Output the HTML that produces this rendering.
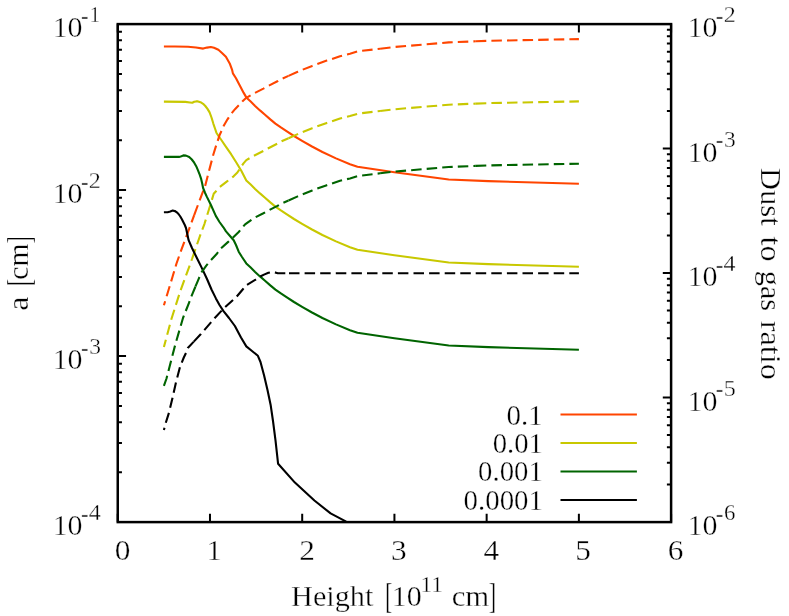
<!DOCTYPE html>
<html><head><meta charset="utf-8"><title>plot</title>
<style>
html,body{margin:0;padding:0;background:#fff;}
body{width:789px;height:616px;overflow:hidden;font-family:"Liberation Serif",serif;}
svg{display:block;will-change:transform}
svg text{font-family:"Liberation Serif",serif;fill:#000;stroke:#fff;stroke-width:0.35px;paint-order:fill stroke;}
.c{fill:none;stroke-width:2.1;stroke-linejoin:round;stroke-linecap:butt}
.d{stroke-dasharray:10.6 5}
</style></head><body>
<svg width="789" height="616" viewBox="0 0 789 616">
<rect width="789" height="616" fill="#fff"/>
<g class="curves">
<polyline class="c" stroke="#ff4500" points="163.9,46.5 175.0,46.5 188.0,46.8 196.0,47.5 203.2,48.6 207.0,47.6 210.8,47.0 214.0,47.8 218.4,49.8 222.0,53.0 225.9,56.8 229.7,63.4 232.2,70.2 232.9,73.4 236.0,78.2 238.6,83.2 241.1,88.0 243.7,92.9 246.3,97.4 250.7,101.6 255.1,105.9 260.0,110.4 265.3,115.0 270.3,119.4 275.4,123.6 280.5,127.2 286.9,131.4 294.0,136.0 302.1,140.8 312.0,146.5 322.4,152.0 336.0,158.4 350.0,164.2 357.5,166.8 394.4,172.2 448.7,179.5 488.3,181.1 578.9,183.8"/>
<polyline class="c" stroke="#c8c800" points="163.9,101.6 185.3,101.9 190.0,102.5 192.3,102.8 194.2,101.8 196.0,101.4 198.0,101.4 200.5,102.2 203.1,103.8 205.3,106.0 207.5,108.9 209.6,112.4 211.5,117.5 213.4,123.8 215.0,128.5 216.4,132.7 218.5,136.0 221.0,139.5 226.0,146.8 231.1,154.2 236.0,162.0 241.3,170.7 246.3,180.4 250.7,184.6 255.1,188.9 260.0,193.4 265.3,198.0 270.3,202.4 275.4,206.6 280.5,210.2 286.9,214.4 294.0,219.0 302.1,223.8 312.0,229.5 322.4,235.0 336.0,241.4 350.0,247.2 357.5,249.8 394.4,255.2 448.7,262.5 488.3,264.1 578.9,266.8"/>
<polyline class="c" stroke="#ff4500" stroke-dasharray="10.5 5.1" stroke-dashoffset="6.2" points="163.9,305.3 167.7,292.8 172.1,278.2 176.5,263.5 181.6,249.1 187.3,233.9 189.2,228.8 194.2,215.1"/>
<polyline class="c" stroke="#ff4500" stroke-dasharray="10.5 5.1" stroke-dashoffset="0" points="194.2,215.1 197.0,207.5 205.2,185.7 209.0,171.0 213.2,155.0 216.3,145.0 219.5,135.4 223.9,125.5 227.5,119.3 231.1,113.9 235.0,109.2 239.1,105.0 242.8,101.0 246.3,97.8 253.9,93.4 263.4,88.6 267.9,86.2 277.4,81.3 281.6,78.9 288.5,75.9"/>
<polyline class="c" stroke="#ff4500" stroke-dasharray="10.5 5.1" stroke-dashoffset="0" points="288.5,75.9 297.7,71.8 302.1,69.9 312.2,65.9 316.7,64.2 326.8,60.6 331.3,59.2 340.0,56.2 350.0,53.8 358.1,51.3 380.1,48.7"/>
<polyline class="c" stroke="#ff4500" stroke-dasharray="10.5 5.1" stroke-dashoffset="0" points="380.1,48.7 394.4,47.0 448.7,42.4 475.8,41.3"/>
<polyline class="c" stroke="#ff4500" stroke-dasharray="10.5 5.1" stroke-dashoffset="0" points="475.8,41.3 488.3,40.8 578.9,39.1"/>
<polyline class="c" stroke="#c8c800" stroke-dasharray="10.5 5.1" stroke-dashoffset="2.9" points="163.9,347.1 171.5,318.7 180.4,290.8 190.6,263.0 192.0,259.0"/>
<polyline class="c" stroke="#c8c800" stroke-dasharray="10.5 5.1" stroke-dashoffset="0" points="192.0,259.0 200.7,233.8 204.5,223.8 210.8,203.5 213.7,193.8 219.8,187.0 226.7,181.7 233.6,176.3 237.4,172.5 240.5,167.9 243.5,163.4 246.3,160.1 253.9,155.7 263.4,150.9 267.9,148.5 277.4,143.6 281.6,141.2 288.5,138.2"/>
<polyline class="c" stroke="#c8c800" stroke-dasharray="10.5 5.1" stroke-dashoffset="0" points="288.5,138.2 297.7,134.1 302.1,132.2 312.2,128.2 316.7,126.5 326.8,122.9 331.3,121.5 340.0,118.5 350.0,116.1 358.1,113.6 380.1,111.0"/>
<polyline class="c" stroke="#c8c800" stroke-dasharray="10.5 5.1" stroke-dashoffset="0" points="380.1,111.0 394.4,109.3 448.7,104.7 475.8,103.6"/>
<polyline class="c" stroke="#c8c800" stroke-dasharray="10.5 5.1" stroke-dashoffset="0" points="475.8,103.6 488.3,103.1 578.9,101.4"/>
<polyline class="c" stroke="#006400" points="163.9,156.9 179.0,156.9 181.5,156.3 183.4,155.4 186.0,155.6 189.2,157.0 191.8,159.5 194.2,162.7 196.2,166.2 198.0,170.3 199.7,174.7 201.2,179.2 202.2,183.5 203.1,188.0 205.0,192.7 206.9,196.9 210.7,204.5 215.8,215.9 219.5,222.0 223.4,227.3 226.0,231.4 230.0,236.0 233.7,240.3 236.0,245.0 238.7,251.7 242.0,257.0 246.3,263.4 250.7,267.6 255.1,271.9 260.0,276.4 265.3,281.0 270.3,285.4 275.4,289.6 280.5,293.2 286.9,297.4 294.0,302.0 302.1,306.8 312.0,312.5 322.4,318.0 336.0,324.4 350.0,330.2 357.5,332.8 394.4,338.2 448.7,345.5 488.3,347.1 578.9,349.8"/>
<polyline class="c" stroke="#000" points="163.9,212.2 167.6,212.2 170.3,211.4 172.7,210.6 174.8,211.0 176.5,212.1 178.5,214.0 180.3,216.5 181.9,219.2 183.4,222.2 184.8,225.0 186.0,228.0 187.2,233.5 188.6,240.2 192.0,248.0 197.0,258.3 201.9,268.1 207.0,279.0 211.5,289.5 215.9,298.4 219.5,305.0 223.5,311.1 229.0,318.0 234.9,326.0 241.0,337.5 246.3,346.4 252.0,351.0 257.9,355.8 260.5,362.0 264.1,375.5 267.5,390.0 270.6,404.7 273.0,421.0 275.5,440.4 278.1,463.8 294.9,482.6 314.4,500.5 330.6,513.4 346.2,521.6"/>
<polyline class="c" stroke="#006400" stroke-dasharray="10.5 5.1" stroke-dashoffset="0" points="163.9,385.8 166.5,378.5 175.3,344.5 183.0,318.0 189.2,302.3 191.8,295.3 195.4,286.7"/>
<polyline class="c" stroke="#006400" stroke-dasharray="10.5 5.1" stroke-dashoffset="0" points="195.4,286.7 198.7,278.9 201.3,272.5 206.3,265.6 210.1,261.1 217.1,253.5 220.3,248.9 227.9,242.1 232.3,238.3 238.7,232.0 245.1,224.3 253.9,218.0 263.4,213.2 267.9,210.8 277.4,205.9 281.6,203.5 288.5,200.5"/>
<polyline class="c" stroke="#006400" stroke-dasharray="10.5 5.1" stroke-dashoffset="0" points="288.5,200.5 297.7,196.4 302.1,194.5 312.2,190.5 316.7,188.8 326.8,185.2 331.3,183.8 340.0,180.8 350.0,178.4 358.1,175.9 380.1,173.3"/>
<polyline class="c" stroke="#006400" stroke-dasharray="10.5 5.1" stroke-dashoffset="0" points="380.1,173.3 394.4,171.6 448.7,167.0 475.8,165.9"/>
<polyline class="c" stroke="#006400" stroke-dasharray="10.5 5.1" stroke-dashoffset="0" points="475.8,165.9 488.3,165.4 578.9,163.7"/>
<polyline class="c" stroke="#000" stroke-dasharray="10.5 5.1" stroke-dashoffset="8.1" points="163.9,430.1 165.8,422.7 169.0,412.6 172.6,397.4 176.0,382.2 180.0,367.0 183.8,357.5 186.1,352.7 187.8,348.0 193.8,341.6"/>
<polyline class="c" stroke="#000" stroke-dasharray="10.5 5.1" stroke-dashoffset="0" points="193.8,341.6 200.9,334.0 215.0,317.7 224.5,307.6 236.5,296.8 242.9,289.2 246.0,285.4 255.6,279.6 259.8,276.8 264.0,274.6 268.4,272.8 271.0,272.2 274.0,272.1 276.0,272.7 277.8,273.2 289.0,273.2"/>
<polyline class="c" stroke="#000" stroke-dasharray="10.5 5.1" stroke-dashoffset="0" points="289.0,273.2 382.3,273.2"/>
<polyline class="c" stroke="#000" stroke-dasharray="10.5 5.1" stroke-dashoffset="0" points="382.3,273.2 475.7,273.2"/>
<polyline class="c" stroke="#000" stroke-dasharray="10.5 5.1" stroke-dashoffset="0" points="475.7,273.2 578.9,273.2"/>
</g>
<path d="M117.75,522.1v-8.3 M117.75,24.1v8.3 M209.98,522.1v-8.3 M209.98,24.1v8.3 M302.20,522.1v-8.3 M302.20,24.1v8.3 M394.43,522.1v-8.3 M394.43,24.1v8.3 M486.65,522.1v-8.3 M486.65,24.1v8.3 M578.88,522.1v-8.3 M578.88,24.1v8.3 M671.10,522.1v-8.3 M671.10,24.1v8.3 M117.75,522.10h8.3 M117.75,472.13h4.2 M117.75,442.90h4.2 M117.75,422.16h4.2 M117.75,406.07h4.2 M117.75,392.93h4.2 M117.75,381.81h4.2 M117.75,372.19h4.2 M117.75,363.70h4.2 M117.75,356.10h8.3 M117.75,306.13h4.2 M117.75,276.90h4.2 M117.75,256.16h4.2 M117.75,240.07h4.2 M117.75,226.93h4.2 M117.75,215.81h4.2 M117.75,206.19h4.2 M117.75,197.70h4.2 M117.75,190.10h8.3 M117.75,140.13h4.2 M117.75,110.90h4.2 M117.75,90.16h4.2 M117.75,74.07h4.2 M117.75,60.93h4.2 M117.75,49.81h4.2 M117.75,40.19h4.2 M117.75,31.70h4.2 M117.75,24.10h8.3 M671.1,522.10h-8.3 M671.1,484.62h-4.2 M671.1,462.70h-4.2 M671.1,447.14h-4.2 M671.1,435.08h-4.2 M671.1,425.22h-4.2 M671.1,416.89h-4.2 M671.1,409.67h-4.2 M671.1,403.30h-4.2 M671.1,397.60h-8.3 M671.1,360.12h-4.2 M671.1,338.20h-4.2 M671.1,322.64h-4.2 M671.1,310.58h-4.2 M671.1,300.72h-4.2 M671.1,292.39h-4.2 M671.1,285.17h-4.2 M671.1,278.80h-4.2 M671.1,273.10h-8.3 M671.1,235.62h-4.2 M671.1,213.70h-4.2 M671.1,198.14h-4.2 M671.1,186.08h-4.2 M671.1,176.22h-4.2 M671.1,167.89h-4.2 M671.1,160.67h-4.2 M671.1,154.30h-4.2 M671.1,148.60h-8.3 M671.1,111.12h-4.2 M671.1,89.20h-4.2 M671.1,73.64h-4.2 M671.1,61.58h-4.2 M671.1,51.72h-4.2 M671.1,43.39h-4.2 M671.1,36.17h-4.2 M671.1,29.80h-4.2 M671.1,24.10h-8.3" stroke="#000" stroke-width="2" fill="none"/>
<rect x="117.75" y="24.1" width="553.35" height="498.00" fill="none" stroke="#000" stroke-width="2.5"/>
<text transform="translate(52.64,37.19) scale(1.0233,1.0203)" font-size="29.3">10</text>
<text transform="translate(80.95,23.60) scale(1.0000,1.2000)" font-size="23">-</text>
<text transform="translate(89.55,22.40) scale(0.9250,1.0295)" font-size="23">1</text>
<text transform="translate(52.64,203.19) scale(1.0233,1.0203)" font-size="29.3">10</text>
<text transform="translate(80.95,189.60) scale(1.0000,1.2000)" font-size="23">-</text>
<text transform="translate(88.75,188.40) scale(1.0486,1.0295)" font-size="23">2</text>
<text transform="translate(52.64,369.19) scale(1.0233,1.0203)" font-size="29.3">10</text>
<text transform="translate(80.95,355.60) scale(1.0000,1.2000)" font-size="23">-</text>
<text transform="translate(89.18,354.15) scale(1.0211,1.0129)" font-size="23">3</text>
<text transform="translate(52.64,535.19) scale(1.0233,1.0203)" font-size="29.3">10</text>
<text transform="translate(80.95,521.60) scale(1.0000,1.2000)" font-size="23">-</text>
<text transform="translate(88.68,520.40) scale(1.0419,1.0467)" font-size="23">4</text>
<text transform="translate(687.54,37.19) scale(1.0233,1.0203)" font-size="29.3">10</text>
<text transform="translate(715.85,23.60) scale(1.0000,1.2000)" font-size="23">-</text>
<text transform="translate(723.65,22.40) scale(1.0486,1.0295)" font-size="23">2</text>
<text transform="translate(687.54,161.69) scale(1.0233,1.0203)" font-size="29.3">10</text>
<text transform="translate(715.85,148.10) scale(1.0000,1.2000)" font-size="23">-</text>
<text transform="translate(724.08,146.65) scale(1.0211,1.0129)" font-size="23">3</text>
<text transform="translate(687.54,286.19) scale(1.0233,1.0203)" font-size="29.3">10</text>
<text transform="translate(715.85,272.60) scale(1.0000,1.2000)" font-size="23">-</text>
<text transform="translate(723.58,271.40) scale(1.0419,1.0467)" font-size="23">4</text>
<text transform="translate(687.54,410.69) scale(1.0233,1.0203)" font-size="29.3">10</text>
<text transform="translate(715.85,397.10) scale(1.0000,1.2000)" font-size="23">-</text>
<text transform="translate(723.79,395.64) scale(1.0486,1.0295)" font-size="23">5</text>
<text transform="translate(687.54,535.19) scale(1.0233,1.0203)" font-size="29.3">10</text>
<text transform="translate(715.85,521.60) scale(1.0000,1.2000)" font-size="23">-</text>
<text transform="translate(724.11,520.15) scale(0.9949,1.0129)" font-size="23">6</text>
<text transform="translate(114.64,560.40) scale(1.0700,1.0101)" font-size="29.3">0</text>
<text transform="translate(206.33,560.40) scale(1.0700,1.0234)" font-size="29.3">1</text>
<text transform="translate(299.23,560.40) scale(1.0700,1.0234)" font-size="29.3">2</text>
<text transform="translate(391.05,560.39) scale(1.0700,1.0231)" font-size="29.3">3</text>
<text transform="translate(483.41,560.40) scale(1.0700,1.0234)" font-size="29.3">4</text>
<text transform="translate(575.37,560.39) scale(1.0700,1.0231)" font-size="29.3">5</text>
<text transform="translate(667.73,560.39) scale(1.0700,1.0231)" font-size="29.3">6</text>
<text transform="translate(506.61,424.55) scale(0.9882,0.9975)" font-size="29.3">0.1</text>
<text transform="translate(492.72,453.00) scale(0.9794,0.9975)" font-size="29.3">0.01</text>
<text transform="translate(478.12,481.45) scale(0.9818,0.9975)" font-size="29.3">0.001</text>
<text transform="translate(463.61,509.90) scale(0.9852,0.9975)" font-size="29.3">0.0001</text>
<text transform="translate(291.02,605.50) scale(1.0337,1.0000)" font-size="29.3">Height</text>
<text transform="translate(385.03,608.13) scale(0.7846,1.1918)" font-size="29.3">[</text>
<text transform="translate(391.84,605.55) scale(1.0252,1.0076)" font-size="29.3">10</text>
<text transform="translate(420.57,592.00) scale(1.0133,0.9770)" font-size="23">11</text>
<text transform="translate(451.69,605.50) scale(1.0500,1.0000)" font-size="29.3">cm</text>
<text transform="translate(488.75,608.13) scale(0.7538,1.1918)" font-size="29.3">]</text>
<text transform="translate(27.90,310.80) rotate(-90) scale(1.0957,1.0000)" font-size="29.3">a</text>
<text transform="translate(29.98,286.09) rotate(-90) scale(0.7077,1.1794)" font-size="29.3">[</text>
<text transform="translate(27.90,279.66) rotate(-90) scale(1.0118,1.0000)" font-size="29.3">cm</text>
<text transform="translate(29.98,243.21) rotate(-90) scale(0.7077,1.1794)" font-size="29.3">]</text>
<text transform="translate(761.20,167.82) rotate(90) scale(1.0459,1.0000)" font-size="29.3">Dust</text>
<text transform="translate(761.20,236.52) rotate(90) scale(1.1070,1.0000)" font-size="29.3">to</text>
<text transform="translate(761.20,270.70) rotate(90) scale(1.0367,1.0000)" font-size="29.3">gas</text>
<text transform="translate(761.20,320.65) rotate(90) scale(1.1058,1.0000)" font-size="29.3">ratio</text>
<path d="M560.5,414.4H636.9" stroke="#ff4500" stroke-width="2" fill="none"/>
<path d="M560.5,442.9H636.9" stroke="#c8c800" stroke-width="2" fill="none"/>
<path d="M560.5,471.4H636.9" stroke="#006400" stroke-width="2" fill="none"/>
<path d="M560.5,499.9H636.9" stroke="#000000" stroke-width="2" fill="none"/>
</svg>
</body></html>
